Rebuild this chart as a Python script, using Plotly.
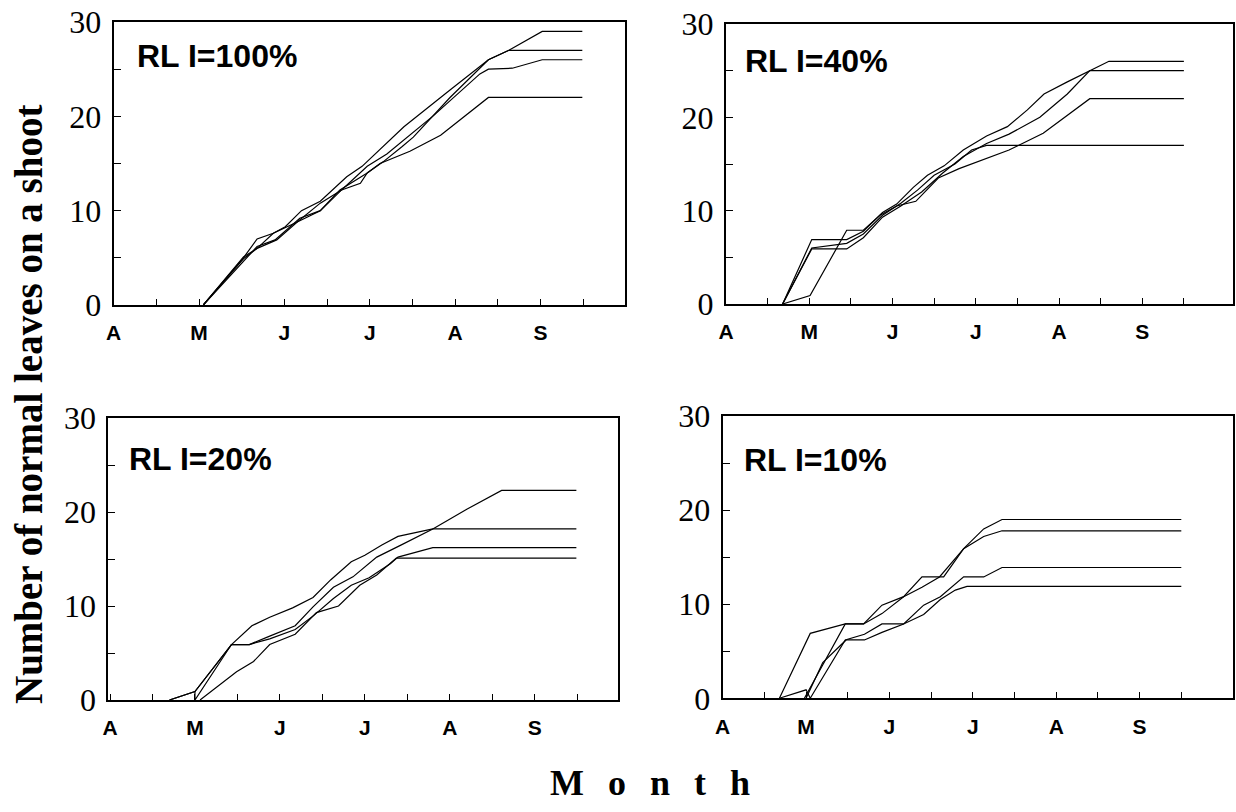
import plotly.graph_objects as go

W, H = 1236, 812
PAGE_OFFSET = 0  # body margin is removed in the page (see post_script)

# Month tick labels (x: months since start of April)
month_vals = [0, 0.5, 1, 1.5, 2, 2.5, 3, 3.5, 4, 4.5, 5, 5.5]
month_text = ["A", "", "M", "", "J", "", "J", "", "A", "", "S", ""]
y_vals = [0, 5, 10, 15, 20, 25, 30]
y_text = ["0", "", "10", "", "20", "", "30"]

panel_labels = ["RL I=100%", "RL I=40%", "RL I=20%", "RL I=10%"]

# ---- RLI = 100% ----
r100_a_x = [1.05, 1.52, 1.68, 1.87, 2.01, 2.20, 2.42, 2.73, 2.91, 3.16, 3.40, 3.94, 4.39, 4.63, 5.02, 5.49]
r100_a_y = [0, 5.0, 7.0, 7.6, 8.3, 10.0, 11.0, 13.6, 14.7, 16.8, 18.9, 22.8, 26.0, 27.0, 29.0, 29.0]
r100_b_x = [1.05, 1.52, 1.68, 1.91, 2.15, 2.42, 2.67, 2.89, 2.97, 3.16, 3.38, 3.51, 3.94, 4.39, 4.63, 5.49]
r100_b_y = [0, 5.1, 6.0, 6.9, 8.8, 10.0, 12.2, 12.9, 14.0, 15.2, 16.8, 17.8, 22.0, 26.0, 27.0, 27.0]
r100_c_x = [1.05, 1.52, 1.68, 1.87, 2.15, 2.42, 2.67, 2.97, 3.20, 3.75, 4.29, 4.39, 4.67, 5.02, 5.49]
r100_c_y = [0, 4.9, 6.0, 7.6, 8.8, 10.8, 12.2, 14.7, 16.0, 20.1, 24.5, 25.0, 25.1, 26.0, 26.0]
r100_d_x = [1.05, 1.56, 1.68, 1.89, 2.18, 2.42, 2.65, 2.97, 3.12, 3.47, 3.83, 4.39, 5.49]
r100_d_y = [0, 5.1, 6.2, 6.9, 9.2, 10.0, 12.2, 14.0, 15.0, 16.3, 18.0, 22.0, 22.0]

# ---- RLI = 40% ----
r40_a_x = [0.68, 1.03, 1.45, 1.65, 1.88, 2.05, 2.25, 2.42, 2.62, 2.85, 3.13, 3.38, 3.62, 3.82, 4.10, 4.37, 4.60, 5.50]
r40_a_y = [0, 6.9, 6.9, 7.8, 9.8, 10.7, 12.5, 13.8, 14.8, 16.5, 18.0, 19.0, 20.8, 22.5, 23.8, 25.0, 26.0, 26.0]
r40_b_x = [0.68, 1.03, 1.45, 1.65, 1.88, 2.10, 2.35, 2.60, 2.85, 3.13, 3.40, 3.77, 4.10, 4.37, 5.50]
r40_b_y = [0, 5.9, 5.9, 7.1, 9.3, 10.5, 12.0, 14.0, 15.8, 17.2, 18.2, 20.0, 22.5, 25.0, 25.0]
r40_c_x = [0.68, 1.01, 1.45, 1.65, 1.85, 2.05, 2.28, 2.55, 2.80, 3.10, 3.40, 3.81, 4.37, 5.50]
r40_c_y = [0, 0.9, 7.9, 7.9, 9.5, 10.5, 11.0, 13.5, 14.5, 15.5, 16.5, 18.3, 22.0, 22.0]
r40_d_x = [0.68, 1.03, 1.45, 1.65, 1.88, 2.10, 2.30, 2.50, 2.75, 2.95, 3.13, 5.50]
r40_d_y = [0, 6.0, 6.5, 7.5, 9.5, 10.8, 12.2, 13.8, 15.0, 16.5, 17.0, 17.0]

# ---- RLI = 20% ----
r20_a_x = [0.70, 1.00, 1.43, 1.64, 1.88, 2.18, 2.39, 2.63, 2.86, 3.14, 3.43, 3.80, 4.20, 4.61, 5.49]
r20_a_y = [0, 0.9, 5.9, 5.9, 6.8, 7.9, 9.9, 12.0, 13.1, 15.2, 16.5, 18.2, 20.3, 22.3, 22.3]
r20_b_x = [0.70, 1.00, 1.43, 1.67, 1.88, 2.15, 2.39, 2.60, 2.84, 3.00, 3.20, 3.39, 3.80, 5.49]
r20_b_y = [0, 0.9, 5.9, 7.9, 8.8, 9.8, 10.9, 12.8, 14.7, 15.4, 16.5, 17.4, 18.2, 18.2]
r20_c_x = [1.00, 1.00, 1.43, 1.64, 1.88, 2.18, 2.40, 2.63, 2.84, 3.05, 3.30, 3.39, 3.80, 5.49]
r20_c_y = [0.9, 0, 5.9, 5.9, 6.5, 7.5, 9.0, 10.8, 12.2, 13.0, 14.5, 15.2, 16.2, 16.2]
r20_d_x = [1.06, 1.49, 1.69, 1.88, 2.18, 2.43, 2.69, 2.94, 3.14, 3.37, 5.49]
r20_d_y = [0, 3.0, 4.1, 5.9, 7.0, 9.3, 10.0, 12.2, 13.3, 15.1, 15.1]

# ---- RLI = 10% ----
r10_a_x = [0.68, 1.05, 1.47, 1.69, 1.91, 2.17, 2.39, 2.65, 2.89, 3.13, 3.35, 5.50]
r10_a_y = [0, 6.9, 7.9, 7.9, 9.9, 10.8, 12.9, 12.9, 15.9, 18.0, 19.0, 19.0]
r10_b_x = [0.98, 1.20, 1.47, 1.69, 1.91, 2.17, 2.39, 2.60, 2.75, 2.89, 3.13, 3.35, 5.50]
r10_b_y = [0, 3.5, 7.9, 7.9, 9.0, 10.8, 11.8, 12.9, 14.5, 15.9, 17.2, 17.8, 17.8]
r10_c_x = [1.00, 1.20, 1.48, 1.70, 1.91, 2.17, 2.41, 2.61, 2.89, 3.13, 3.35, 5.50]
r10_c_y = [0, 3.8, 6.2, 6.2, 7.0, 7.9, 9.9, 10.8, 12.9, 12.9, 13.9, 13.9]
r10_d_x = [0.68, 1.00, 1.05, 1.47, 1.70, 1.91, 2.17, 2.41, 2.61, 2.79, 2.93, 5.50]
r10_d_y = [0, 0.9, 0, 6.2, 6.8, 7.9, 7.9, 8.9, 10.5, 11.5, 11.9, 11.9]

panels = [
    [(r100_a_x, r100_a_y), (r100_b_x, r100_b_y), (r100_c_x, r100_c_y), (r100_d_x, r100_d_y)],
    [(r40_a_x, r40_a_y), (r40_b_x, r40_b_y), (r40_c_x, r40_c_y), (r40_d_x, r40_d_y)],
    [(r20_a_x, r20_a_y), (r20_b_x, r20_b_y), (r20_c_x, r20_c_y), (r20_d_x, r20_d_y)],
    [(r10_a_x, r10_a_y), (r10_b_x, r10_b_y), (r10_c_x, r10_c_y), (r10_d_x, r10_d_y)],
]

# target screen-pixel boxes of the four plot areas (left, right, top, bottom)
boxes = [
    (113.7, 625, 22, 305),
    (726, 1233, 24, 304),
    (108.3, 618, 418, 700),
    (722.7, 1233, 416, 698.3),
]
x_ranges = [[0, 5.99], [0, 6.09], [-0.02, 5.98], [0, 6.12]]
label_pos = [(0.25, 26.4), (0.2, 26.0), (0.2, 25.6), (0.23, 25.3)]


def px(v):
    return (v - PAGE_OFFSET) / W


def py(v):
    return 1 - (v - PAGE_OFFSET) / H


fig = go.Figure()
layout = dict(
    width=W, height=H, margin=dict(l=0, r=0, t=0, b=0, autoexpand=False),
    paper_bgcolor="white", plot_bgcolor="white", showlegend=False,
)
annotations = []
for i, (lines, box) in enumerate(zip(panels, boxes)):
    xa = "x" if i == 0 else f"x{i+1}"
    ya = "y" if i == 0 else f"y{i+1}"
    for lx, ly in lines:
        fig.add_trace(go.Scatter(x=lx, y=ly, mode="lines", xaxis=xa, yaxis=ya,
                                 line=dict(color="black", width=1.2), hoverinfo="skip"))
    l, r, t, b = box
    xkey = "xaxis" if i == 0 else f"xaxis{i+1}"
    ykey = "yaxis" if i == 0 else f"yaxis{i+1}"
    layout[xkey] = dict(
        domain=[px(l), min(px(r), 1)], range=x_ranges[i], anchor=ya, automargin=False,
        showgrid=False, zeroline=False, showline=True, linecolor="black", linewidth=2,
        mirror=True, ticks="inside", ticklen=6, tickwidth=1.2, tickcolor="black",
        tickvals=month_vals, ticktext=month_text, ticklabelstandoff=8,
        ticklabeloverflow="allow",
        tickfont=dict(family="Liberation Sans", size=21, color="black", weight="bold"),
    )
    layout[ykey] = dict(
        domain=[py(b), py(t)], range=[0, 30], anchor=xa, automargin=False,
        showgrid=False, zeroline=False, showline=True, linecolor="black", linewidth=2,
        mirror=True, ticks="inside", ticklen=7, tickwidth=1.2, tickcolor="black",
        tickvals=y_vals, ticktext=y_text, ticklabelstandoff=4,
        ticklabeloverflow="allow",
        tickfont=dict(family="Liberation Serif", size=32, color="black"),
    )
    lxp, lyp = label_pos[i]
    annotations.append(dict(
        x=lxp, y=lyp, xref=xa, yref=ya, text=panel_labels[i], showarrow=False,
        xanchor="left", yanchor="middle",
        font=dict(family="Liberation Sans", size=32, color="black", weight="bold"),
    ))

annotations.append(dict(
    x=px(28), y=py(405), xref="paper", yref="paper",
    text="Number of normal leaves on a shoot", showarrow=False, textangle=-90,
    xanchor="center", yanchor="middle",
    font=dict(family="Liberation Serif", size=39, color="black", weight="bold"),
))
gap = "\u00a0\u00a0\u2006"
annotations.append(dict(
    x=px(650), y=py(783), xref="paper", yref="paper",
    text=gap.join("Month"), showarrow=False,
    xanchor="center", yanchor="middle",
    font=dict(family="Liberation Serif", size=36, color="black", weight="bold"),
))
layout["annotations"] = annotations
fig.update_layout(**layout)
fig.write_html("out.html", config={"displayModeBar": False},
               post_script="document.body.style.margin='0px';")
